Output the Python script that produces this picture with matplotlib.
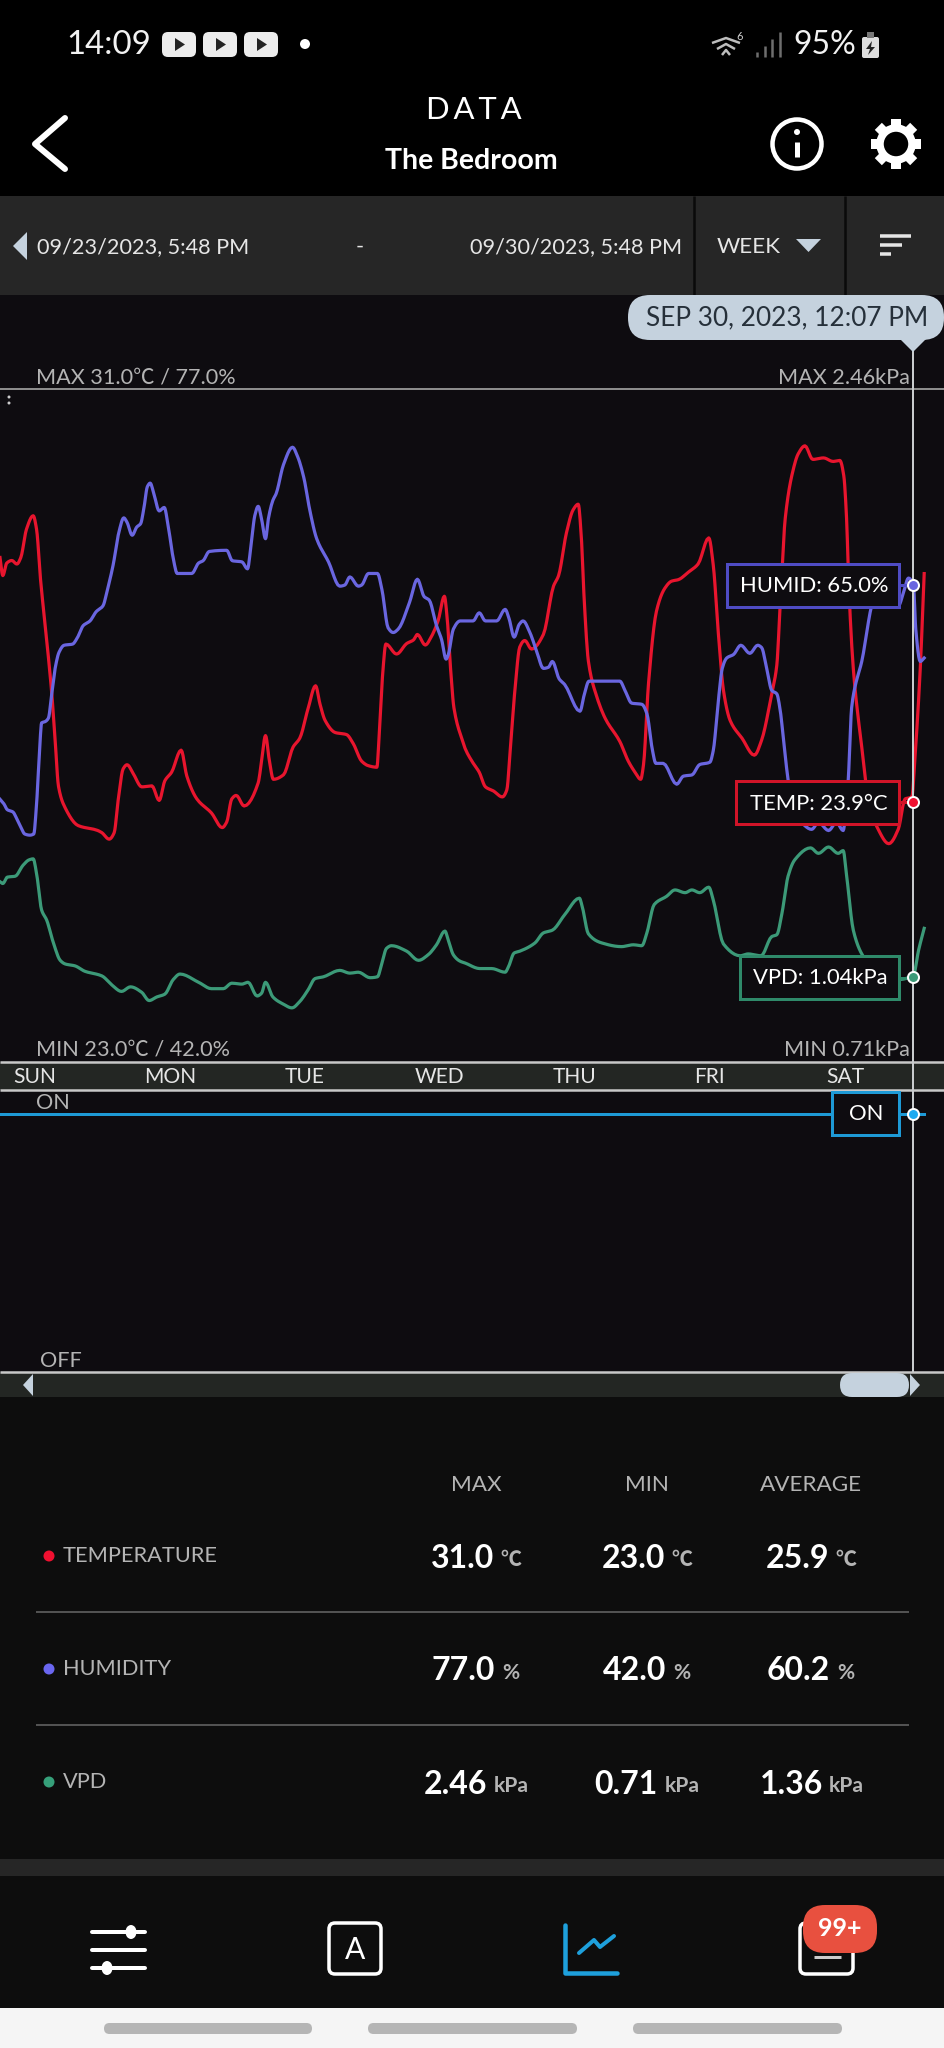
import math
import numpy as np
import matplotlib
matplotlib.use('Agg')
import matplotlib.pyplot as plt
from matplotlib.patches import FancyBboxPatch, Rectangle, Polygon, Circle, Ellipse
from matplotlib.lines import Line2D
from matplotlib.transforms import Affine2D
# hours since 09/23/2023 5:48 PM, in tenths of an hour
temp_time_tenths=[0,5,12,21,30,37,47,59,65,72,83,92,98,104,116,139,172,181,194,203,210,219,226,237,252,270,283,293,305,322,332,350,376,395,403,412,420,434,459,465,472,479,486,504,521,533,548,561,569,578,596,616,628,643,655,670,674,681,686,705,723,735,742,756,767,779,790,795,801,807,824,827,839,852,863,877,893,901,907,916,924,933,945,966,984,993,1007,1019,1028,1033,1039,1046,1061,1076,1102,1117,1129,1139,1144,1153,1167,1182,1194,1206,1224,1241,1260,1268,1277,1286,1298,1319,1341,1354,1372,1381,1387,1396,1410,1419,1431,1445,1464,1481,1493,1500,1505,1509,1517,1532,1544,1561,1580,1597,1609,1621,1627,1636,1643]
temp_vals=[28.76,28.4,28.65,28.7,28.63,28.76,29.32,29.59,29.32,28.33,27.12,26.06,25.13,24.21,23.78,23.43,23.34,23.29,23.16,23.29,23.93,24.56,24.64,24.46,24.2,24.22,23.93,24.32,24.49,24.93,24.42,23.96,23.68,23.39,23.5,23.96,24.03,23.82,24.28,24.71,25.22,24.71,24.35,24.44,24.99,25.17,25.77,26.21,25.84,25.52,25.28,25.24,25.06,24.71,24.62,24.59,25.2,26.55,27.04,26.84,27.05,27.12,27.23,27.02,27.19,27.51,27.99,27.55,26.55,25.77,25.06,24.96,24.71,24.49,24.2,24.12,24.0,24.14,24.92,26.2,26.98,27.11,26.94,27.23,28.19,28.4,29.25,29.71,29.82,29.25,27.83,26.7,25.99,25.56,25.1,24.71,24.49,24.35,24.64,26.27,27.69,28.15,28.29,28.32,28.47,28.63,29.15,28.61,27.26,26.13,25.52,25.17,24.83,25.13,26.06,26.62,27.83,29.54,30.5,30.82,30.98,30.71,30.74,30.67,30.69,30.39,29.54,28.19,26.55,24.99,23.93,23.36,23.07,23.36,23.96,24.0,24.85,26.55,28.44]
humid_time_tenths=[0,7,13,23,30,37,44,53,60,65,70,74,80,86,92,98,105,114,129,137,148,160,171,183,191,201,212,220,226,235,243,250,256,262,267,273,283,292,299,308,315,341,353,361,372,403,413,430,440,446,453,459,465,472,477,485,491,504,520,529,540,551,563,584,604,613,622,637,643,655,671,679,690,699,708,728,742,754,763,776,785,793,797,806,818,827,841,852,863,883,898,905,914,923,930,942,954,966,975,982,994,1004,1031,1039,1047,1102,1111,1123,1141,1150,1160,1166,1179,1203,1215,1230,1244,1262,1268,1277,1284,1292,1304,1317,1333,1347,1354,1363,1372,1381,1387,1393,1401,1410,1425,1443,1455,1473,1487,1499,1505,1508,1514,1520,1532,1550,1567,1585,1597,1606,1615,1624,1628,1636,1643]
# relative humidity in tenths of a percent
humid_tenths=[465,461,456,454,448,441,435,434,435,461,504,531,532,535,556,578,592,598,599,604,615,619,627,632,646,667,697,708,704,693,700,703,717,735,738,730,714,717,701,673,660,660,669,671,679,680,671,670,664,683,710,718,707,690,707,723,729,754,769,761,743,714,690,670,649,650,657,649,650,660,660,646,613,609,612,635,655,640,637,615,603,586,590,612,619,619,619,626,619,619,629,621,605,616,619,609,593,578,579,584,569,564,541,556,567,567,559,548,547,539,507,496,496,478,485,486,495,497,507,550,578,587,590,598,591,598,596,578,559,556,542,516,482,458,445,439,445,438,445,438,464,482,544,562,584,633,655,643,632,643,656,649,612,584,587]
vpd_time=[0.0,0.5,1.3,2.7,4.1,5.2,5.9,6.5,7.4,8.3,9.5,10.7,11.6,13.3,15.1,18.1,19.9,21.6,23.2,25.2,26.5,27.9,29.3,30.8,32.0,35.3,37.6,39.7,41.2,43.0,44.1,45.7,46.5,47.2,48.5,50.4,51.9,53.3,54.8,56.0,57.5,60.4,62.2,63.7,65.8,67.1,67.9,68.7,69.6,72.3,74.4,76.1,77.6,79.1,79.7,80.6,81.8,82.7,85.3,87.4,89.8,90.4,91.4,92.4,95.1,96.6,98.2,100.4,103.0,103.5,104.6,107.0,110.5,112.6,114.1,115.0,116.3,118.5,120.0,121.8,123.0,124.4,126.0,126.8,128.6,131.6,133.0,135.3,137.2,138.1,139.0,140.1,141.3,144.1,145.5,147.3,149.0,149.9,150.5,151.7,153.3,156.7,159.7,162.4,163.3,164.3]
vpd_vals=[2.08,2.06,2.13,2.14,2.26,2.32,2.33,2.17,1.77,1.66,1.41,1.22,1.18,1.16,1.1,1.05,0.95,0.88,0.93,0.87,0.78,0.82,0.85,1.01,1.07,0.98,0.91,0.91,0.97,0.96,0.98,0.83,0.86,0.98,0.82,0.74,0.7,0.77,0.9,1.02,1.04,1.11,1.08,1.09,1.03,1.04,1.19,1.35,1.38,1.32,1.22,1.28,1.39,1.54,1.44,1.28,1.21,1.19,1.13,1.13,1.09,1.15,1.3,1.32,1.41,1.52,1.55,1.72,1.9,1.81,1.51,1.41,1.37,1.39,1.38,1.52,1.83,1.92,1.99,1.96,1.99,1.96,2.02,1.88,1.4,1.27,1.29,1.27,1.48,1.5,1.73,2.14,2.32,2.45,2.39,2.46,2.39,2.42,2.15,1.55,1.28,1.04,1.01,1.06,1.33,1.57]
day_labels=['SUN','MON','TUE','WED','THU','FRI','SAT']
day_hours=[6.2,30.2,54.2,78.2,102.2,126.2,150.2]
switch_time=[0,164.3]; switch_state=[1,1]
cursor_hour=162.3; cursor_temp=23.9; cursor_humid=65.0; cursor_vpd=1.04; cursor_state=1
table_rows=[('TEMPERATURE','#f01030','℃',['31.0','23.0','25.9']),('HUMIDITY','#6a66f0','%',['77.0','42.0','60.2']),('VPD','#36a07a','kPa',['2.46','0.71','1.36'])]

def smooth(x,y,n=6):
    # shape-preserving cubic drawn between the read values, as the app rounds its line
    x=np.asarray(x,float); y=np.asarray(y,float)
    h=np.diff(x); d=np.diff(y)/h; m=np.zeros_like(y); m[0]=d[0]; m[-1]=d[-1]
    for i in range(1,len(x)-1):
        if d[i-1]*d[i]>0:
            w1=2*h[i]+h[i-1]; w2=h[i]+2*h[i-1]
            m[i]=(w1+w2)/(w1/d[i-1]+w2/d[i])
    X=[];Y=[]
    for i in range(len(h)):
        t=np.linspace(0,1,n,endpoint=False)
        X.append(x[i]+t*h[i])
        Y.append((2*t**3-3*t**2+1)*y[i]+(t**3-2*t**2+t)*h[i]*m[i]+(-2*t**3+3*t**2)*y[i+1]+(t**3-t**2)*h[i]*m[i+1])
    return np.r_[np.concatenate(X),x[-1]],np.r_[np.concatenate(Y),y[-1]]

W,HH=945,2048
plt.rcParams['font.family']=['Lato','Noto Sans CJK SC','DejaVu Sans']
fig=plt.figure(figsize=(W/100,HH/100),dpi=100,facecolor='#000000')
PX=Affine2D().scale(1/W,-1/HH).translate(0,1)+fig.transFigure
def pt(px): return px*72/100
def rect(x0,y0,x1,y1,c,z=0,**k):
    fig.add_artist(Rectangle((x0,y0),x1-x0,y1-y0,transform=PX,facecolor=c,edgecolor=k.pop('ec','none'),lw=k.pop('lw',0),zorder=z,**k))
def rrect(x0,y0,x1,y1,r,c,z=0,ec='none',lw=0):
    fig.add_artist(FancyBboxPatch((x0+r,y0+r),x1-x0-2*r,y1-y0-2*r,boxstyle=f'round,pad={r},rounding_size={r}',transform=PX,facecolor=c,edgecolor=ec,lw=lw,zorder=z))
def line(xs,ys,c,lwpx,z=4,cap='butt'):
    fig.add_artist(Line2D(xs,ys,transform=PX,color=c,lw=pt(lwpx),zorder=z,solid_capstyle=cap,solid_joinstyle='round'))
def poly(pts,c,z=4):
    fig.add_artist(Polygon(pts,closed=True,transform=PX,facecolor=c,edgecolor='none',zorder=z))
def circ(x,y,r,c,z=4,ec='none',lw=0):
    fig.add_artist(Circle((x,y),r,transform=PX,facecolor=c,edgecolor=ec,lw=lw,zorder=z))
def T(x,y,s,size,c='white',ha='left',va='center',w='normal',z=6):
    fig.text(x/W,1-y/HH,s,fontsize=pt(size),color=c,ha=ha,va=va,fontweight=w,zorder=z)
BG='#0e0c10'; BAND='#232623'; PALE='#c5d2de'; GREY='#b4b4b4'
RED='#e8152e'; PUR='#6a66e0'; GRN='#3c9a78'; BLU='#1e9ad6'
rect(0,196,W,295,'#262626')
rect(0,295,W,1372,BG)
rect(0,1062,W,1090,BAND)
rect(0,1372,W,1397,BAND)
rect(0,1397,W,1859,'#0d0d0d')
rect(0,1859,W,1876,'#262626')
rect(0,1876,W,2008,'#0d0d0d')
rect(0,2008,W,HH,'#f5f5f5')
for a,b in ((104,312),(368,577),(633,842)):
    rrect(a,2023,b,2034,5.5,'#b5b5b5',z=1)
# status bar
T(66,45,'14:09',33,'#f2f2f2')
for a in (162,203,244):
    rrect(a,32,a+34,57,6,'#ececec',z=1)
    poly([(a+13,38),(a+13,51),(a+23,44.5)],'#222222')
circ(305,44,5,'white')
for x0,x1,y0 in ((712,740,40),(717,735,46),(722,730,52)):
    line([x0,(x0+x1)/2,x1],[y0+3,y0-2,y0+3],'#bdbdbd',2.5)
T(740,36,'6',11,'#cfcfcf',ha='center')
for i,h in enumerate((5,11,18,25)):
    line([757+i*7.5]*2,[57-h,57],'#6e6e6e',2.5)
T(793,45,'95%',32,'#f2f2f2')
rrect(862,37,879,58,2,'#dddddd',z=1); rect(867,32,874,38,'#777777',z=1)
poly([(872,41),(866,49),(870,49),(868,55),(875,47),(871,47)],'#222222')
# header
T(474,110,'D\u2009A\u2009T\u2009A',31,ha='center')
T(471,161,'The Bedroom',28.5,ha='center',w='bold')
line([65,35,65],[118,144,169],'white',6,cap='round')
circ(797,144,24.5,'none',ec='white',lw=pt(4.5))
line([797,797],[142,157],'white',5); circ(797,132,3,'white')
for i in range(8):
    a=i*math.pi/4
    line([896+17*math.cos(a),896+25*math.cos(a)],[144+17*math.sin(a),144+25*math.sin(a)],'white',10)
circ(896,144,16,'none',ec='white',lw=pt(7.5))
# date bar
poly([(27,232),(27,260),(13,246)],PALE)
T(37,247,'09/23/2023, 5:48 PM',21.7,'#e6e6e6')
T(360,247,'-',21.7,'#e6e6e6',ha='center')
T(470,247,'09/30/2023, 5:48 PM',21.7,'#e6e6e6')
for x in (694,845):
    line([x,x],[196,295],'#0a0a0a',2.5)
T(717,247,'WEEK',22.5,'#e6e6e6')
poly([(796,239),(821,239),(808.5,252)],PALE)
for a,b,y in ((880,911,236),(880,902,245),(880,891,254)):
    line([a,b],[y,y],'#e6e6e6',3.5)
# charts
def mk(y0,y1,z):
    return fig.add_axes([0,1-y1/HH,1,(y1-y0)/HH],zorder=z,facecolor='none')
def clean(a):
    a.set_xlim(0,168)
    for s in a.spines.values(): s.set_visible(False)
    a.set_yticks([]); a.tick_params(length=0)
lim_t=(18.73,32.11); lim_h=(23.81,81.93); lim_v=(0.108,7.469)
ax_t=mk(389,1062,1); ax_t.set_ylim(lim_t); clean(ax_t)
ax_t.set_xticks(day_hours); ax_t.set_xticklabels(day_labels,fontsize=pt(21),color='#e6e6e6')
ax_t.tick_params(axis='x',pad=pt(5))
ax_h=mk(389,1062,1.1); ax_h.set_ylim(lim_h); clean(ax_h); ax_h.set_xticks([])
ax_v=mk(389,1062,1.2); ax_v.set_ylim(lim_v); clean(ax_v); ax_v.set_xticks([])
ax_t.plot(*smooth(np.array(temp_time_tenths)/10,temp_vals),color=RED,lw=pt(3.2),solid_joinstyle='round')
ax_h.plot(*smooth(np.array(humid_time_tenths)/10,np.array(humid_tenths)/10),color=PUR,lw=pt(3.2),solid_joinstyle='round')
ax_v.plot(*smooth(vpd_time,vpd_vals),color=GRN,lw=pt(3.2),solid_joinstyle='round')
ax_s=mk(1090,1372,1.3); ax_s.set_ylim(0,1.093); clean(ax_s); ax_s.set_xticks([])
ax_s.plot(switch_time,switch_state,color=BLU,lw=pt(3))
# rules
line([0,W],[389,389],'#8c8c8c',2,z=0.5)
line([0,W],[1062,1062],'#c8c8c8',2.5,z=3)
line([0,W],[1090,1090],'#c8c8c8',2.5,z=3)
line([0,W],[1372,1372],'#c8c8c8',2.5,z=3)
circ(9,397,1.5,'#cccccc'); circ(9,403,1.5,'#cccccc')
T(36,378,'MAX 31.0℃ / 77.0%',21.6,GREY)
T(910,378,'MAX 2.46kPa',21.6,GREY,ha='right')
T(36,1050,'MIN 23.0℃ / 42.0%',21.6,GREY)
T(910,1050,'MIN 0.71kPa',21.6,GREY,ha='right')
T(36,1103,'ON',21.6,GREY)
T(40,1361,'OFF',21.6,GREY)
# value boxes
for x0,y0,x1,y1,c,s,ym in ((727,564,899,607,'#4f4cc4','HUMID: 65.0%',585),(736,781,899,824,'#d01428','TEMP: 23.9°C',802),(740,956,899,999,'#2f8a6a','VPD: 1.04kPa',978),(832,1092,899,1135,BLU,'ON',1114)):
    rect(x0,y0,x1,y1,BG,z=3,ec=c,lw=pt(3))
    line([899,913],[ym,ym],c,3,z=3)
    T((x0+x1)/2+1,(y0+y1)/2+1,s,22,'white',ha='center')
# cursor
line([913,913],[345,1372],'#c9ccce',2,z=3.5)
rrect(628,295,944,340,22,PALE,z=4)
poly([(900,339),(926,339),(913,352)],PALE,z=4)
T(787,318,'SEP 30, 2023, 12:07 PM',26.2,'#26303a',ha='center')
for lim,val,c in ((lim_t,cursor_temp,'#f01030'),(lim_h,cursor_humid,PUR),(lim_v,cursor_vpd,GRN)):
    m=mk(389,1062,5); m.set_ylim(lim); clean(m); m.set_xticks([]); m.axis('off')
    m.plot([cursor_hour],[val],'o',ms=pt(11),mfc=c,mec='white',mew=pt(2))
m=mk(1090,1372,5); m.set_ylim(0,1.093); clean(m); m.axis('off')
m.plot([cursor_hour],[cursor_state],'o',ms=pt(11),mfc='#1eaaf0',mec='white',mew=pt(2))
# scroll
poly([(33,1374),(33,1396),(23,1385)],PALE)
rrect(840,1373,909,1397,12,PALE,z=4)
poly([(910,1374),(910,1396),(920,1385)],PALE)
# table
for s,x in (('MAX',476),('MIN',647),('AVERAGE',811)):
    T(x,1485,s,22.5,GREY,ha='center')
ys=[1558,1671,1784]
starts=[[431,602,766],[432,603,767],[424,594,760]]
unitx=[[500,671,835],[502,673,837],[494,665,829]]
for (lab,col,u,vals),y,st,ux in zip(table_rows,ys,starts,unitx):
    circ(49,y-2,5.5,col)
    T(63,y-2,lab,21.8,GREY)
    for v,a,b in zip(vals,st,ux):
        T(a,y,v,32,'white',w='bold')
        T(b,y+2,u,21,GREY,w='bold')
for y in (1612,1725):
    line([36,909],[y,y],'#6a6a6a',1.5)
# nav
for y,k in ((1932,131),(1950,None),(1968,107)):
    line([92,145],[y,y],'white',4,cap='round')
    if k: fig.add_artist(Ellipse((k,y),11,14,transform=PX,facecolor='white',zorder=4))
rrect(329,1923,381,1974,6,'none',z=4,ec='white',lw=pt(3.5))
T(355,1950,'A',30,'white',ha='center')
line([565,565,617],[1925,1973,1973],'#1ea0dc',4.5,cap='round')
line([579,594,600,614],[1953,1940,1947,1936],'#1ea0dc',4,cap='round')
rrect(800,1923,853,1974,6,'none',z=4,ec='white',lw=pt(3.5))
line([814,841],[1957,1957],'#cccccc',3)
rrect(803,1905,877,1953,22,'#e8503f',z=5)
T(840,1929,'99+',25,'white',ha='center',w='bold',z=7)
fig.savefig('out.png',dpi=100,facecolor='#000000')
